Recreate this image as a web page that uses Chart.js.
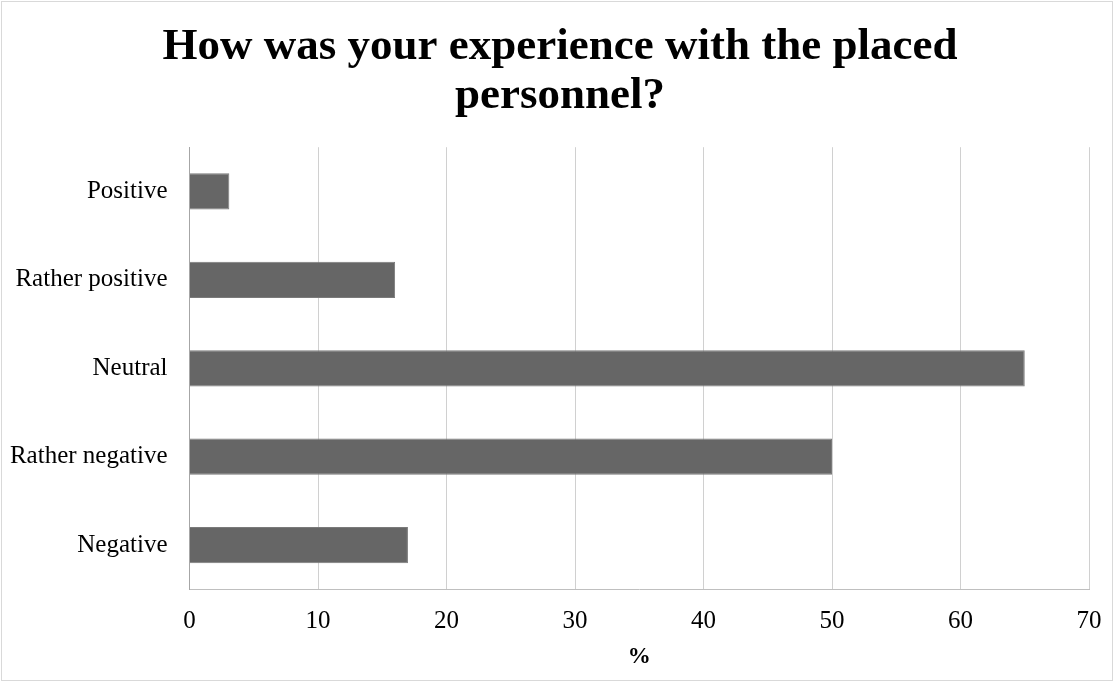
<!DOCTYPE html>
<html>
<head>
<meta charset="utf-8">
<script src="https://cdn.jsdelivr.net/npm/chart.js@4"></script>
<style>
  html, body { margin: 0; padding: 0; background: #fff; }
  #wrap { position: absolute; left: 1px; top: 1px; width: 1110px; height: 678px; border: 1px solid #d9d9d9; overflow: hidden; }
  #inner { position: absolute; left: 0; top: 0; width: 1126px; height: 678px; }
</style>
</head>
<body>
<div id="wrap"><div id="inner"><canvas id="barChart"></canvas></div></div>
<script>
// Categories and values (%)
const categories = ['Positive', 'Rather positive', 'Neutral', 'Rather negative', 'Negative'];
const percentages = [3.1, 16, 65, 50, 17];
const xTicks = [0, 10, 20, 30, 40, 50, 60, 70];

document.addEventListener('DOMContentLoaded', function () {
    const ctx = document.getElementById('barChart').getContext('2d');
    new Chart(ctx, {
        type: 'bar',
        data: {
            labels: categories,
            datasets: [{
                data: percentages,
                backgroundColor: '#666666',
                borderColor: '#7a7a7a',
                borderWidth: 1,
                barPercentage: 0.41,
                categoryPercentage: 1.0
            }]
        },
        options: {
            indexAxis: 'y',
            responsive: true,
            maintainAspectRatio: false,
            animation: false,
            layout: { padding: { left: 0, right: 10, top: 0, bottom: 1 } },
            plugins: {
                legend: { display: false },
                tooltip: { enabled: false },
                title: {
                    display: true,
                    text: ['How was your experience with the placed', 'personnel?'],
                    color: '#000',
                    font: { family: 'Liberation Serif', size: 45, weight: 'bold', lineHeight: 1.08 },
                    padding: { top: 21, bottom: 27 }
                }
            },
            scales: {
                x: {
                    min: xTicks[0],
                    max: xTicks[xTicks.length - 1],
                    afterBuildTicks: function (axis) {
                        axis.ticks = xTicks.map(v => ({ value: v }));
                    },
                    afterFit: function (axis) { axis.paddingRight = 39; },
                    grid: { color: '#d0d0d0', lineWidth: 1, drawTicks: false },
                    border: { color: '#bfbfbf' },
                    ticks: { color: '#000', padding: 17, font: { family: 'Liberation Serif', size: 25 } },
                    title: {
                        display: true,
                        text: '%',
                        color: '#000',
                        font: { family: 'Liberation Serif', size: 23, weight: 'bold' },
                        padding: { top: -10, bottom: 8 }
                    }
                },
                y: {
                    afterFit: function (axis) { axis.width = 187.5; },
                    grid: { display: false, drawTicks: false },
                    border: { color: '#a6a6a6' },
                    ticks: { color: '#000', padding: 22, font: { family: 'Liberation Serif', size: 25 } }
                }
            }
        }
    });
});
</script>
</body>
</html>
